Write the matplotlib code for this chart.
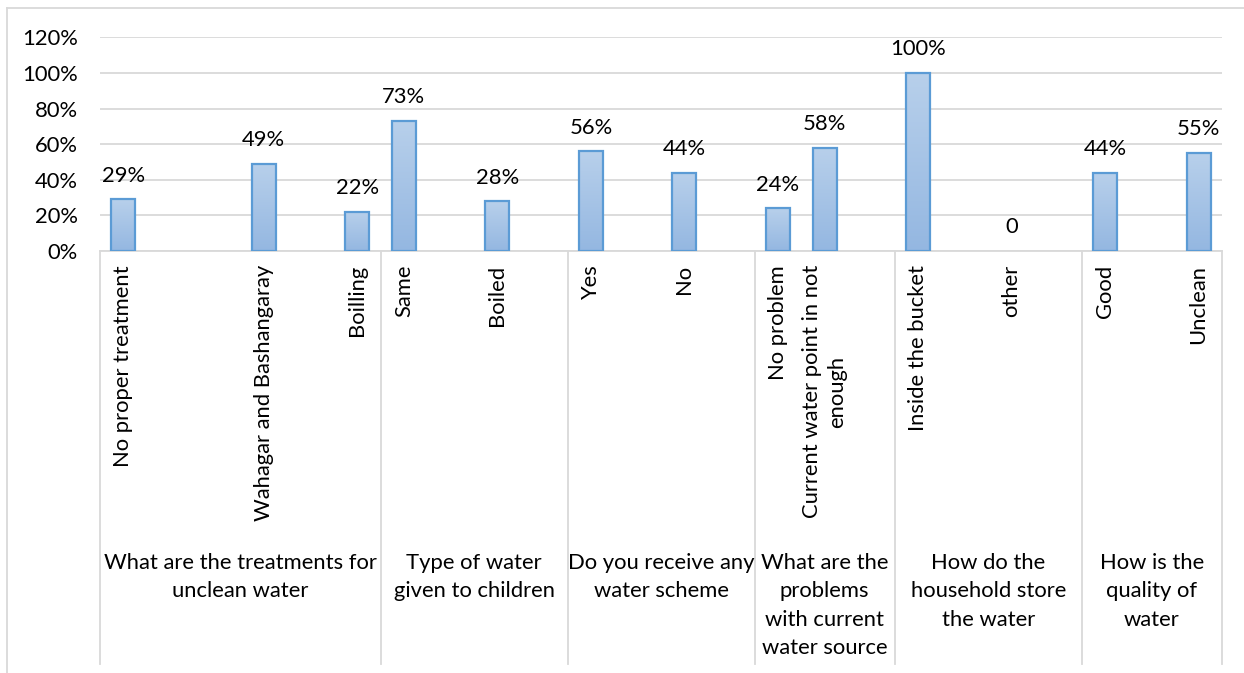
import numpy as np
import matplotlib
matplotlib.use("Agg")
import matplotlib.pyplot as plt
from matplotlib.colors import LinearSegmentedColormap
from matplotlib.lines import Line2D
import matplotlib.transforms as mtransforms

plt.rcParams['font.family'] = ['Lato', 'DejaVu Sans']

# survey questions (outer axis level) and how many answer slots each takes
groups = [
    "What are the treatments for\nunclean water",
    "Type of water\ngiven to children",
    "Do you receive any\nwater scheme",
    "What are the\nproblems\nwith current\nwater source",
    "How do the\nhousehold store\nthe water",
    "How is the\nquality of\nwater",
]
group_sizes = [6, 4, 4, 3, 4, 3]

# answers (inner axis level); blank slots have no answer
answers = [
    "No proper treatment", "", "", "Wahagar and Bashangaray", "", "Boilling",
    "Same", "", "Boiled", "",
    "Yes", "", "No", "",
    "No problem", "Current water point in not\nenough", "",
    "Inside the bucket", "", "other", "",
    "Good", "", "Unclean",
]
shares = [
    0.29, None, None, 0.49, None, 0.22,
    0.73, None, 0.28, None,
    0.56, None, 0.44, None,
    0.24, 0.58, None,
    1.00, None, 0.0, None,
    0.44, None, 0.55,
]

W, H = 1244, 673
fig = plt.figure(figsize=(W / 100, H / 100), dpi=100)
ax = fig.add_axes([100 / W, 1 - 251 / H, (1222 - 100) / W, (251 - 37.3) / H])

grid_col = '#d9d9d9'
edge_col = '#5b9bd5'
grad = LinearSegmentedColormap.from_list('bar', ['#94b7e1', '#b8d0eb'])
fs = 15.8
n = len(answers)
x = np.arange(n)

ax.set_xlim(-0.5, n - 0.5)
ax.set_ylim(0, 1.2)
ticks = np.arange(0, 1.21, 0.2)
ax.set_yticks(ticks)
ax.set_yticklabels([f"{int(round(t * 100))}%" for t in ticks], fontsize=fs)
ax.tick_params(axis='y', length=0, pad=16)
ax.set_xticks([])
ax.yaxis.grid(True, color=grid_col, lw=1.3)
ax.set_axisbelow(True)
for s in ['top', 'right', 'left']:
    ax.spines[s].set_visible(False)
ax.spines['bottom'].set_color(grid_col)
ax.spines['bottom'].set_linewidth(1.3)

bar_w = 0.51
gradient = np.linspace(0, 1, 256).reshape(-1, 1)
for i, v in enumerate(shares):
    if v is None:
        continue
    if v > 0:
        b = ax.bar(x[i], v, width=bar_w, color='none', edgecolor=edge_col, lw=1.6, zorder=3)[0]
        img = ax.imshow(gradient, cmap=grad, aspect='auto', origin='lower',
                        extent=[x[i] - bar_w / 2, x[i] + bar_w / 2, 0, v], zorder=2)
        img.set_clip_path(b)
    label = "0" if v == 0 else f"{v:.0%}"
    ax.annotate(label, (x[i], v), xytext=(0, 17), textcoords='offset points',
                ha='center', va='center', fontsize=fs)

ax.set_xlim(-0.5, n - 0.5)
ax.set_ylim(0, 1.2)

# multi-level category axis below the plot
trans = mtransforms.blended_transform_factory(ax.transData, fig.transFigure)
y_axis = 1 - 251 / H
y_bottom = 1 - 664 / H
for i, lab in enumerate(answers):
    if lab:
        fig.text(x[i], 1 - 265 / H, lab, transform=trans, rotation=90,
                 ha='center', va='top', fontsize=fs,
                 multialignment='center', linespacing=1.35)

bounds = np.concatenate([[0], np.cumsum(group_sizes)]) - 0.5
for bx in bounds:
    fig.add_artist(Line2D([bx, bx], [y_axis, y_bottom], transform=trans,
                          color=grid_col, lw=1.3))
for g, (a, b) in zip(groups, zip(bounds[:-1], bounds[1:])):
    fig.text((a + b) / 2, 1 - 553 / H, g, transform=trans, ha='center', va='top',
             fontsize=fs, multialignment='center', linespacing=1.52)

# chart frame (left and top edges)
fig.add_artist(Line2D([7 / W, 7 / W], [0, 1 - 8 / H], transform=fig.transFigure, color=grid_col, lw=1.3))
fig.add_artist(Line2D([7 / W, 1], [1 - 8 / H, 1 - 8 / H], transform=fig.transFigure, color=grid_col, lw=1.3))

fig.savefig('out.png', dpi=100, facecolor='white')
